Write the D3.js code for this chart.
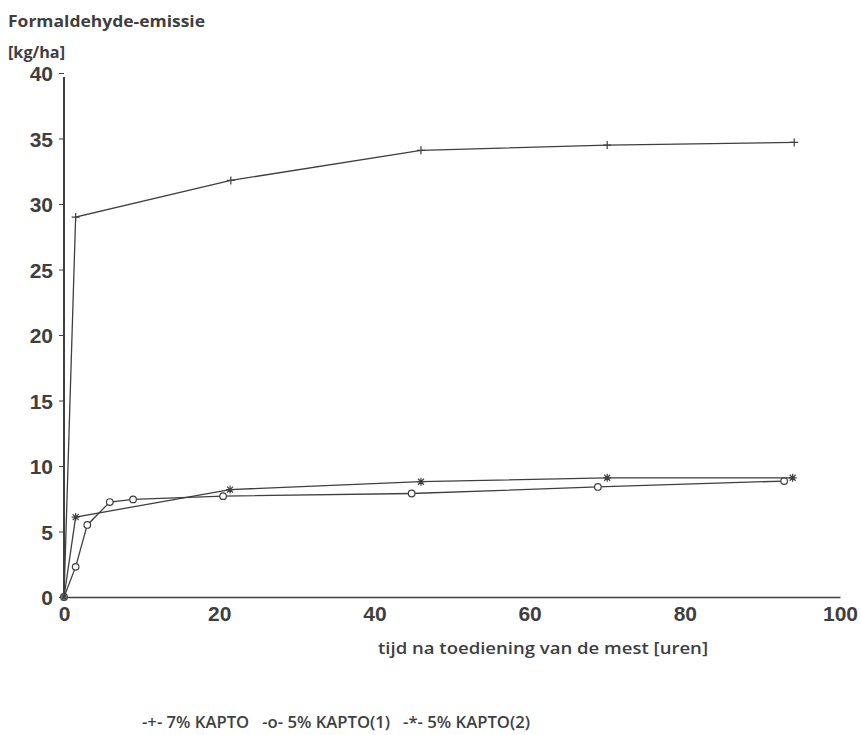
<!DOCTYPE html>
<html>
<head>
<meta charset="utf-8">
<script src="https://cdn.jsdelivr.net/npm/d3@7"></script>
<style>
  html, body { margin: 0; padding: 0; background: #fff; }
  svg { display: block; }
</style>
</head>
<body>
<svg id="chart" width="861" height="735"></svg>
<script>
// ---- data ----
const xTicks = [0, 20, 40, 60, 80, 100];
const yTicks = [0, 5, 10, 15, 20, 25, 30, 35, 40];

const kapto7_x = [0, 1.5, 21.5, 46.0, 70.0, 94.1];
const kapto7_y = [0, 29.0, 31.8, 34.1, 34.5, 34.7];

const kapto5a_x = [0, 1.5, 3.0, 5.9, 8.9, 20.5, 44.8, 68.8, 92.8];
const kapto5a_y = [0, 2.3, 5.5, 7.25, 7.45, 7.7, 7.9, 8.4, 8.85];

const kapto5b_x = [0, 1.5, 21.4, 46.0, 70.0, 93.9];
const kapto5b_y = [0, 6.1, 8.2, 8.8, 9.1, 9.1];

const seriesNames = ["7% KAPTO", "5% KAPTO(1)", "5% KAPTO(2)"];
const seriesSymbols = ["+", "o", "*"];

const titleText = "Formaldehyde-emissie";
const unitText = "[kg/ha]";
const xTitle = "tijd na toediening van de mest [uren]";

// ---- drawing ----
const svg = d3.select("#chart");
const ink = "#3f3f3f";
const font = "'Open Sans', 'DejaVu Sans', sans-serif";
const numFont = "'Liberation Sans', Arial, sans-serif";

const x = d3.scaleLinear().domain([0, 100]).range([64, 840]);
const y = d3.scaleLinear().domain([0, 40]).range([597, 73]);

function label(tx, ty, txt, len, weight, anchor) {
  return svg.append("text").attr("x", tx).attr("y", ty)
    .attr("text-anchor", anchor || "start")
    .attr("font-family", font).attr("font-weight", weight).attr("font-size", 16)
    .attr("fill", ink).attr("textLength", len).attr("lengthAdjust", "spacingAndGlyphs")
    .attr("xml:space", "preserve").text(txt);
}

// titles
label(8, 27, titleText, 197, 700);
label(8, 58, unitText, 57, 700);

// y axis
const yAxis = d3.axisLeft(y).tickValues(yTicks).tickSize(5).tickPadding(6);
const gy = svg.append("g").attr("transform", `translate(${x(0)},0)`).call(yAxis);
gy.select(".domain").attr("d", `M0,${y(39.7)}V${y(0)}`).attr("stroke", ink).attr("stroke-width", 2);
gy.selectAll(".tick line").attr("stroke", ink).attr("stroke-width", 1);
gy.selectAll(".tick text").attr("font-family", numFont)
  .attr("font-weight", 700).attr("font-size", 21).attr("fill", ink).attr("dy", "0.36em");

// x axis
const xAxis = d3.axisBottom(x).tickValues(xTicks).tickSize(0).tickPadding(9);
const gx = svg.append("g").attr("transform", `translate(0,${y(0)})`).call(xAxis);
gx.select(".domain").attr("stroke", ink).attr("stroke-width", 1.5);
gx.selectAll(".tick text").attr("font-family", numFont)
  .attr("font-weight", 700).attr("font-size", 21).attr("fill", ink);

label(543, 654, xTitle, 330, 600, "middle");

// lines
const allSeries = [
  { xs: kapto7_x, ys: kapto7_y, sym: "+" },
  { xs: kapto5a_x, ys: kapto5a_y, sym: "o" },
  { xs: kapto5b_x, ys: kapto5b_y, sym: "*" }
];
const line = d3.line().x(d => x(d[0])).y(d => y(d[1]));

allSeries.forEach(s => {
  const pts = s.xs.map((v, i) => [v, s.ys[i]]);
  svg.append("path").datum(pts).attr("d", line)
    .attr("fill", "none").attr("stroke", ink).attr("stroke-width", 1.3);
  const g = svg.append("g");
  pts.forEach(p => {
    const cx = x(p[0]), cy = y(p[1]);
    if (s.sym === "+") {
      g.append("path").attr("d", `M${cx-4},${cy}H${cx+4}M${cx},${cy-4}V${cy+4}`)
        .attr("stroke", ink).attr("stroke-width", 1.2);
    } else if (s.sym === "o") {
      g.append("circle").attr("cx", cx).attr("cy", cy).attr("r", 3.3)
        .attr("fill", "#fff").attr("stroke", ink).attr("stroke-width", 1.2);
    } else {
      g.append("path").attr("d",
        `M${cx-4},${cy}H${cx+4}M${cx},${cy-4}V${cy+4}M${cx-3},${cy-3}L${cx+3},${cy+3}M${cx-3},${cy+3}L${cx+3},${cy-3}`)
        .attr("stroke", ink).attr("stroke-width", 1.2);
    }
  });
});

// legend
const legendText = seriesNames.map((n, i) => `-${seriesSymbols[i]}- ${n}`);
label(142, 728, legendText.join("   "), 388, 600);
</script>
</body>
</html>
